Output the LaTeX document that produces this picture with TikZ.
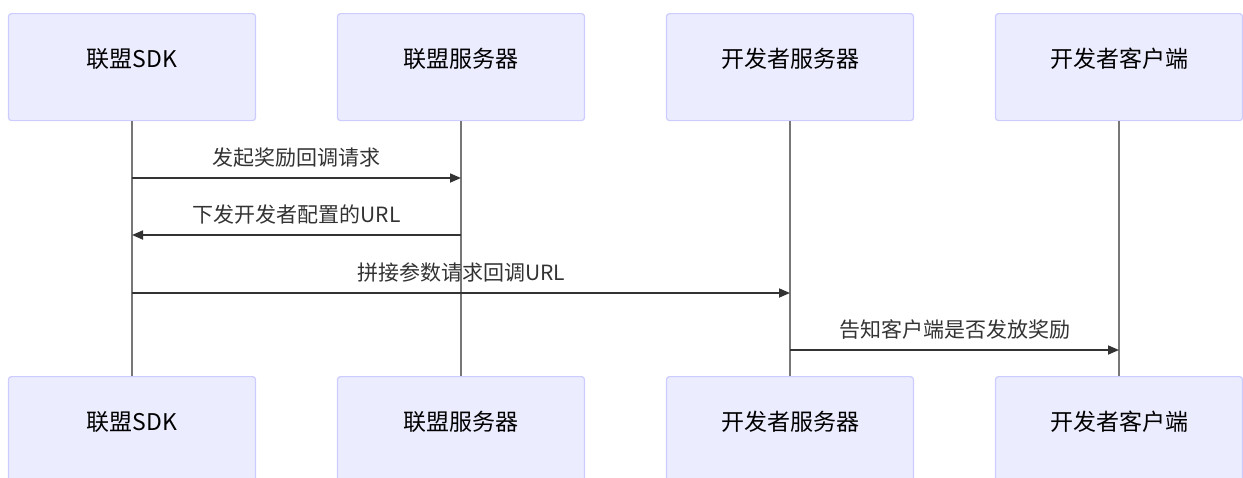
\documentclass[tikz,border=0pt]{standalone}
\usepackage{fontspec}
\setmainfont{Noto Sans CJK SC}
\usetikzlibrary{arrows.meta,calc}
\definecolor{boxfill}{HTML}{ECECFF}
\definecolor{boxline}{HTML}{CCCCFF}
\definecolor{lifeline}{HTML}{777777}
\definecolor{msgcol}{HTML}{333333}
\tikzset{
  actor/.style={draw=boxline, fill=boxfill, line width=1.2pt, rounded corners=3pt,
    minimum width=247pt, minimum height=107pt, inner sep=0pt, anchor=north},
  actortext/.style={font=\fontsize{23pt}{27pt}\selectfont, text=black, inner sep=0pt},
  life/.style={draw=lifeline, line width=1.2pt},
  msg/.style={draw=msgcol, line width=1.7pt, -{Triangle[length=11pt,width=9pt]}},
  msgtext/.style={font=\fontsize{21pt}{25pt}\selectfont, text=msgcol, inner sep=0pt}
}
\begin{document}
\begin{tikzpicture}[x=1pt,y=-1pt]
\useasboundingbox (0,0) rectangle (1243,477);
\clip (0,0) rectangle (1243,477);
% top actors
\node[actor] (t1) at (132,13) {};
\node[actor] (t2) at (461,13) {};
\node[actor] (t3) at (790,13) {};
\node[actor] (t4) at (1119,13) {};
% bottom actors
\node[actor] (b1) at (132,376) {};
\node[actor] (b2) at (461,376) {};
\node[actor] (b3) at (790,376) {};
\node[actor] (b4) at (1119,376) {};
% labels
\foreach \n/\t in {t1/联盟SDK, t2/联盟服务器, t3/开发者服务器, t4/开发者客户端,
                   b1/联盟SDK, b2/联盟服务器, b3/开发者服务器, b4/开发者客户端}{
  \node[actortext, anchor=center] (\n-l) at ([yshift=-46pt]\n.north) {\t};
}
% lifelines
\draw[life] (t1.south) -- (b1.north);
\draw[life] (t2.south) -- (b2.north);
\draw[life] (t3.south) -- (b3.north);
\draw[life] (t4.south) -- (b4.north);
% message anchors
\coordinate (m1a) at (132,178); \coordinate (m1b) at (461,178);
\coordinate (m2a) at (461,235); \coordinate (m2b) at (132,235);
\coordinate (m3a) at (132,293); \coordinate (m3b) at (790,293);
\coordinate (m4a) at (790,350); \coordinate (m4b) at (1119,350);
\draw[msg] (m1a) -- (m1b);
\draw[msg] (m2a) -- (m2b);
\draw[msg] (m3a) -- (m3b);
\draw[msg] (m4a) -- (m4b);
\node[msgtext] (l1) at ($(m1a)!0.5!(m1b)+(0,-20)$) {发起奖励回调请求};
\node[msgtext] (l2) at ($(m2a)!0.5!(m2b)+(0,-20)$) {下发开发者配置的URL};
\node[msgtext] (l3) at ($(m3a)!0.5!(m3b)+(0,-20)$) {拼接参数请求回调URL};
\node[msgtext] (l4) at ($(m4a)!0.5!(m4b)+(0,-20)$) {告知客户端是否发放奖励};
\end{tikzpicture}
\end{document}
